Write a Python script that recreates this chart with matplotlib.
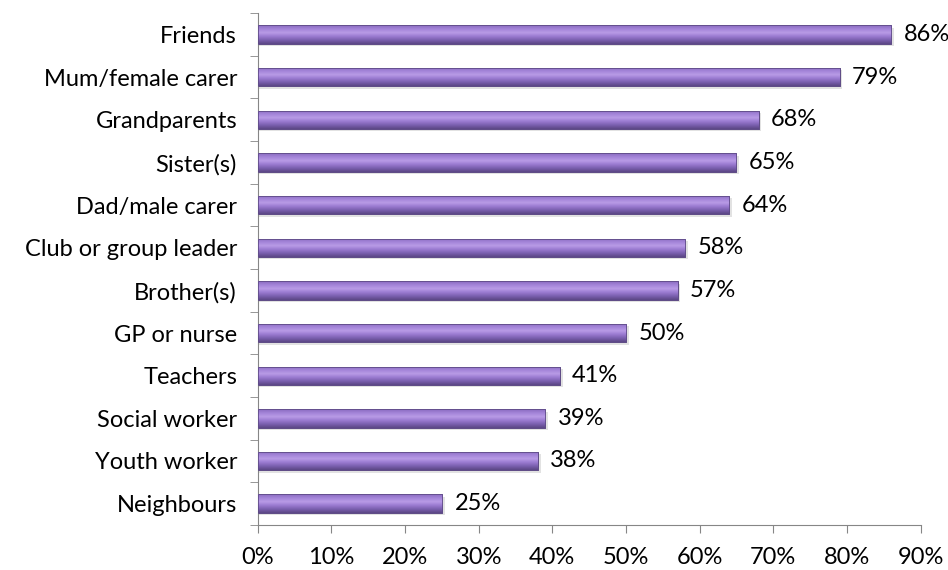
import matplotlib
matplotlib.use("Agg")
import matplotlib.pyplot as plt
import numpy as np
from matplotlib.colors import LinearSegmentedColormap

categorias = [
    "Friends", "Mum/female carer", "Grandparents", "Sister(s)", "Dad/male carer",
    "Club or group leader", "Brother(s)", "GP or nurse", "Teachers",
    "Social worker", "Youth worker", "Neighbours",
]
valores = [0.86, 0.79, 0.68, 0.65, 0.64, 0.58, 0.57, 0.50, 0.41, 0.39, 0.38, 0.25]
etiquetas_x = ["0%", "10%", "20%", "30%", "40%", "50%", "60%", "70%", "80%", "90%"]

plt.rcParams["font.family"] = ["Lato", "DejaVu Sans"]
tam = 17

fig = plt.figure(figsize=(9.48, 5.70), dpi=100)
ax = fig.add_axes([0.272, 0.079, 0.699, 0.898])

n = len(categorias)
y = np.arange(n)[::-1]
alto = 0.43

# degradado vertical de la barra (arriba claro, abajo oscuro)
cmap = LinearSegmentedColormap.from_list(
    "violeta", ["#5b4785", "#7a5fae", "#9a7ad0", "#b89be6", "#a384d8", "#8a6bc0"])
grad = np.linspace(0, 1, 64).reshape(-1, 1)

for yi, v in zip(y, valores):
    # sombra
    ax.barh(yi - 0.06, v + 0.002, height=alto, left=0.002, color="#d0d0d0",
            alpha=0.6, zorder=1)
    barra = ax.barh(yi, v, height=alto, color="#8a6bc0", edgecolor="#5e4b86",
                    linewidth=0.6, zorder=2)[0]
    im = ax.imshow(grad, cmap=cmap, aspect="auto", zorder=3,
                   extent=[0, v, yi - alto / 2, yi + alto / 2], origin="lower")
    im.set_clip_path(barra)
    ax.barh(yi, v, height=alto, color="none", edgecolor="#5e4b86",
            linewidth=0.6, zorder=4)
    ax.annotate(f"{round(v * 100):.0f}%", (v, yi), xytext=(9, 0),
                textcoords="offset points", va="center", ha="left",
                fontsize=tam, color="#000000", annotation_clip=False)

ax.set_xlim(0, 0.9)
ax.set_ylim(-0.5, n - 0.5)
ax.set_xticks(np.arange(0, 0.91, 0.1))
ax.set_xticklabels(etiquetas_x, fontsize=tam)
ax.set_yticks(y)
ax.set_yticklabels(categorias, fontsize=tam)
ax.tick_params(axis="y", length=0, pad=15)
ax.set_yticks(np.arange(-0.5, n, 1.0), minor=True)
ax.tick_params(axis="y", which="minor", length=6, color="#868686")
ax.tick_params(axis="x", length=6, color="#868686", pad=10)

for lado in ("top", "right"):
    ax.spines[lado].set_visible(False)
for lado in ("left", "bottom"):
    ax.spines[lado].set_color("#868686")

fig.savefig("out.png", dpi=100)
